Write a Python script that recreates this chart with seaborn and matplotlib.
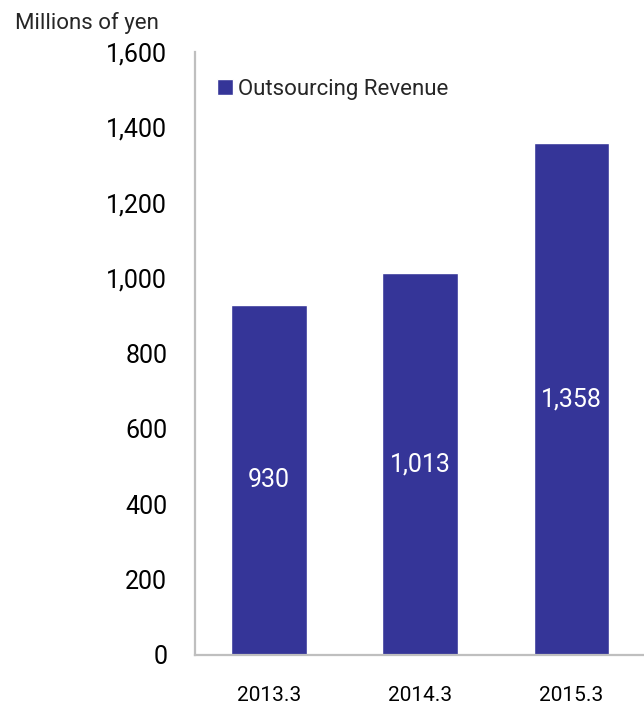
import matplotlib
matplotlib.use("Agg")
import matplotlib.pyplot as plt
import seaborn as sns
import pandas as pd

periods = ["2013.3", "2014.3", "2015.3"]
revenue = [930, 1013, 1358]
series_name = "Outsourcing Revenue"
yticks = [0, 200, 400, 600, 800, 1000, 1200, 1400, 1600]

sns.set_theme(style="white")
plt.rcParams['font.family'] = ['Roboto', 'DejaVu Sans']

df = pd.DataFrame({"period": periods, "revenue": revenue, "series": series_name})

fig = plt.figure(figsize=(6.44, 7.07), dpi=100)
ax = fig.add_axes([195/644, 52/707, 449/644, 603/707])

bar_color = "#353598"
sns.barplot(data=df, x="period", y="revenue", hue="series", palette=[bar_color],
            width=0.5, ax=ax, saturation=1, legend=True)

ax.set_xlim(-0.49, 2.48)
ax.set_ylim(0, 1600)
ax.set_yticks(yticks)
ax.set_yticklabels([f"{v:,}" for v in yticks], fontsize=17)
ax.set_xlabel("")
ax.set_ylabel("")

for s in ["top", "right"]:
    ax.spines[s].set_visible(False)
for s in ["left", "bottom"]:
    ax.spines[s].set_color("#BFBFBF")
    ax.spines[s].set_linewidth(1.6)

ax.tick_params(axis="y", direction="in", length=6, width=1.6, color="#BFBFBF",
               pad=20, labelsize=18, labelcolor="black")
# x ticks between categories
ax.set_xticks([0.5, 1.5], minor=True)
ax.tick_params(axis="x", which="minor", direction="in", length=6, width=1.6, color="#BFBFBF")
ax.tick_params(axis="x", which="major", length=0, pad=22, labelsize=15, labelcolor="black")

for i, v in enumerate(revenue):
    ax.text(i, v / 2, f"{v:,}", ha="center", va="center", color="white", fontsize=18)

leg = ax.legend(loc="upper left", bbox_to_anchor=(0.03, 0.97), frameon=False,
                fontsize=16, handlelength=0.7, handleheight=0.7, handletextpad=0.25,
                borderaxespad=0)

fig.text(15/644, 1 - 23/707, "Millions of yen", fontsize=16, va="center", ha="left")

fig.savefig("out.png", dpi=100)
